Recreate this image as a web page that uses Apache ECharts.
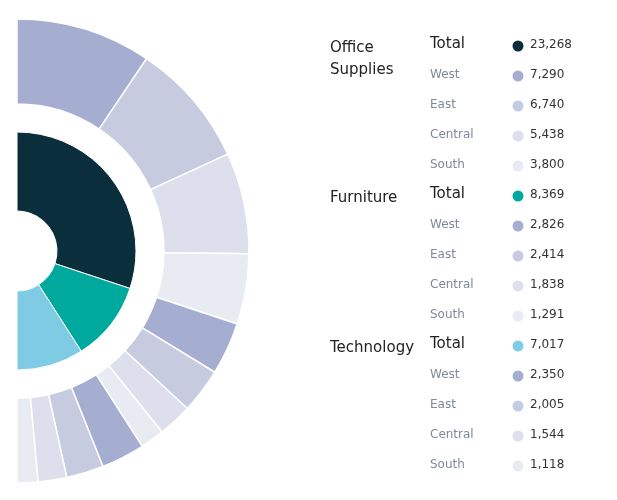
<!DOCTYPE html><html><head><meta charset="utf-8">
<script src="https://cdn.jsdelivr.net/npm/echarts@6/dist/echarts.min.js"></script>
<style>html,body{margin:0;padding:0;background:#fff}#c{width:617px;height:500px}</style></head>
<body><div id="c"></div><script>
const categories = ['Office\nSupplies', 'Furniture', 'Technology'];
const totals = [23268, 8369, 7017];
const regions = ['West', 'East', 'Central', 'South'];
const officeSupplies = [7290, 6740, 5438, 3800];
const furniture = [2826, 2414, 1838, 1291];
const technology = [2350, 2005, 1544, 1118];
const catColors = ['#0b2e3c', '#00a99d', '#7fcbe3'];
const regionColors = ['#a5add0', '#c6cbe0', '#dde0ec', '#e9ebf3'];

const subs = [officeSupplies, furniture, technology];
const fmt = v => v.toLocaleString('en-US');
const inner = totals.map((v, i) => ({ name: categories[i], value: v, itemStyle: { color: catColors[i] } }));
const outer = [];
subs.forEach((arr, i) => arr.forEach((v, j) => outer.push({ name: categories[i] + ' ' + regions[j], value: v, itemStyle: { color: regionColors[j] } })));

const graphic = [];
let y = 46;
subs.forEach((arr, i) => {
  graphic.push({ type: 'text', left: 330, top: y - 9, style: { text: categories[i], font: '15px "DejaVu Sans"', fill: '#222', lineHeight: 22 } });
  graphic.push({ type: 'text', left: 430, top: y - 9, style: { text: 'Total', font: '15px "DejaVu Sans"', fill: '#222' } });
  graphic.push({ type: 'circle', shape: { cx: 518, cy: y, r: 5.5 }, style: { fill: catColors[i] } });
  graphic.push({ type: 'text', left: 530, top: y - 7, style: { text: fmt(totals[i]), font: '12px "DejaVu Sans"', fill: '#333' } });
  y += 30;
  arr.forEach((v, j) => {
    graphic.push({ type: 'text', left: 430, top: y - 7, style: { text: regions[j], font: '12px "DejaVu Sans"', fill: '#7f8898' } });
    graphic.push({ type: 'circle', shape: { cx: 518, cy: y, r: 5.5 }, style: { fill: regionColors[j] } });
    graphic.push({ type: 'text', left: 530, top: y - 7, style: { text: fmt(v), font: '12px "DejaVu Sans"', fill: '#333' } });
    y += 30;
  });
});

const chart = echarts.init(document.getElementById('c'));
chart.setOption({
  animation: false,
  graphic: graphic,
  series: [
    { type: 'pie', center: [17, 251], radius: [40, 119], startAngle: 90, endAngle: -90, clockwise: true,
      label: { show: false }, labelLine: { show: false }, silent: true,
      itemStyle: { borderColor: '#fff', borderWidth: 1 }, data: inner },
    { type: 'pie', center: [17, 251], radius: [147, 232], startAngle: 90, endAngle: -90, clockwise: true,
      label: { show: false }, labelLine: { show: false }, silent: true,
      itemStyle: { borderColor: '#fff', borderWidth: 1.5 }, data: outer }
  ]
});
</script></body></html>
